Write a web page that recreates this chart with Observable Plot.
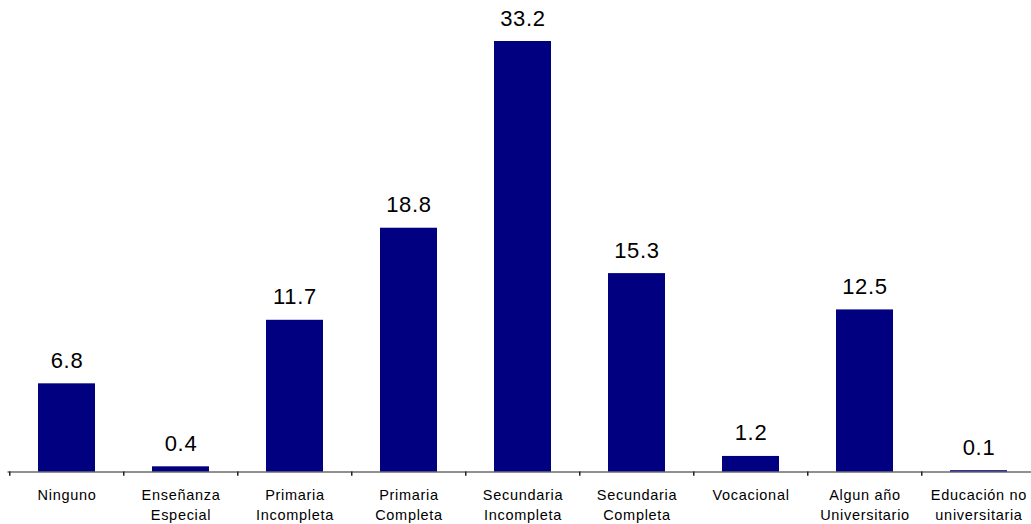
<!DOCTYPE html>
<html>
<head>
<meta charset="utf-8">
<script src="https://cdn.jsdelivr.net/npm/d3@7"></script>
<script src="https://cdn.jsdelivr.net/npm/@observablehq/plot@0.6"></script>
<style>
  html, body { margin: 0; padding: 0; background: #fff; }
  #chart svg { display: block; }
</style>
</head>
<body>
<div id="chart"></div>
<script>
const categories = [
  "Ninguno",
  "Enseñanza\nEspecial",
  "Primaria\nIncompleta",
  "Primaria\nCompleta",
  "Secundaria\nIncompleta",
  "Secundaria\nCompleta",
  "Vocacional",
  "Algun año\nUniversitario",
  "Educación no\nuniversitaria"
];
const values = [6.8, 0.4, 11.7, 18.8, 33.2, 15.3, 1.2, 12.5, 0.1];

const data = categories.map((c, i) => ({category: c, value: values[i]}));

const W = 1031, H = 524;
const plot = Plot.plot({
  width: W,
  height: H,
  marginTop: 41,
  marginBottom: 52.5,
  marginLeft: 7.5,
  marginRight: 0,
  style: {fontFamily: "'Liberation Sans', Arial, sans-serif", background: "#fff", letterSpacing: "0.7px"},
  x: {domain: categories, paddingInner: 0.5, paddingOuter: 0.25, range: [7.5, 1038], axis: null},
  y: {domain: [0, 33.2], range: [471.5, 41], axis: null},
  marks: [
    Plot.barY(data, {x: "category", y: "value", fill: "#000080"}),
    Plot.ruleY([0], {stroke: "#222", strokeWidth: 1}),
    Plot.ruleX(data, {x: "category", dx: -57.25, y1: 0, y2: -0.32, stroke: "#222", strokeWidth: 1.5}),
    Plot.text(data, {
      x: "category", y: 0, text: "category",
      lineAnchor: "top", dy: 13.5, lineHeight: 1.4,
      fontSize: 14.5, fill: "#000"
    }),
    Plot.text(data, {
      x: "category", y: "value", text: d => d.value.toFixed(1),
      lineAnchor: "bottom", dy: -16, fontSize: 22, fill: "#000"
    })
  ]
});
document.getElementById("chart").appendChild(plot);
</script>
</body>
</html>
